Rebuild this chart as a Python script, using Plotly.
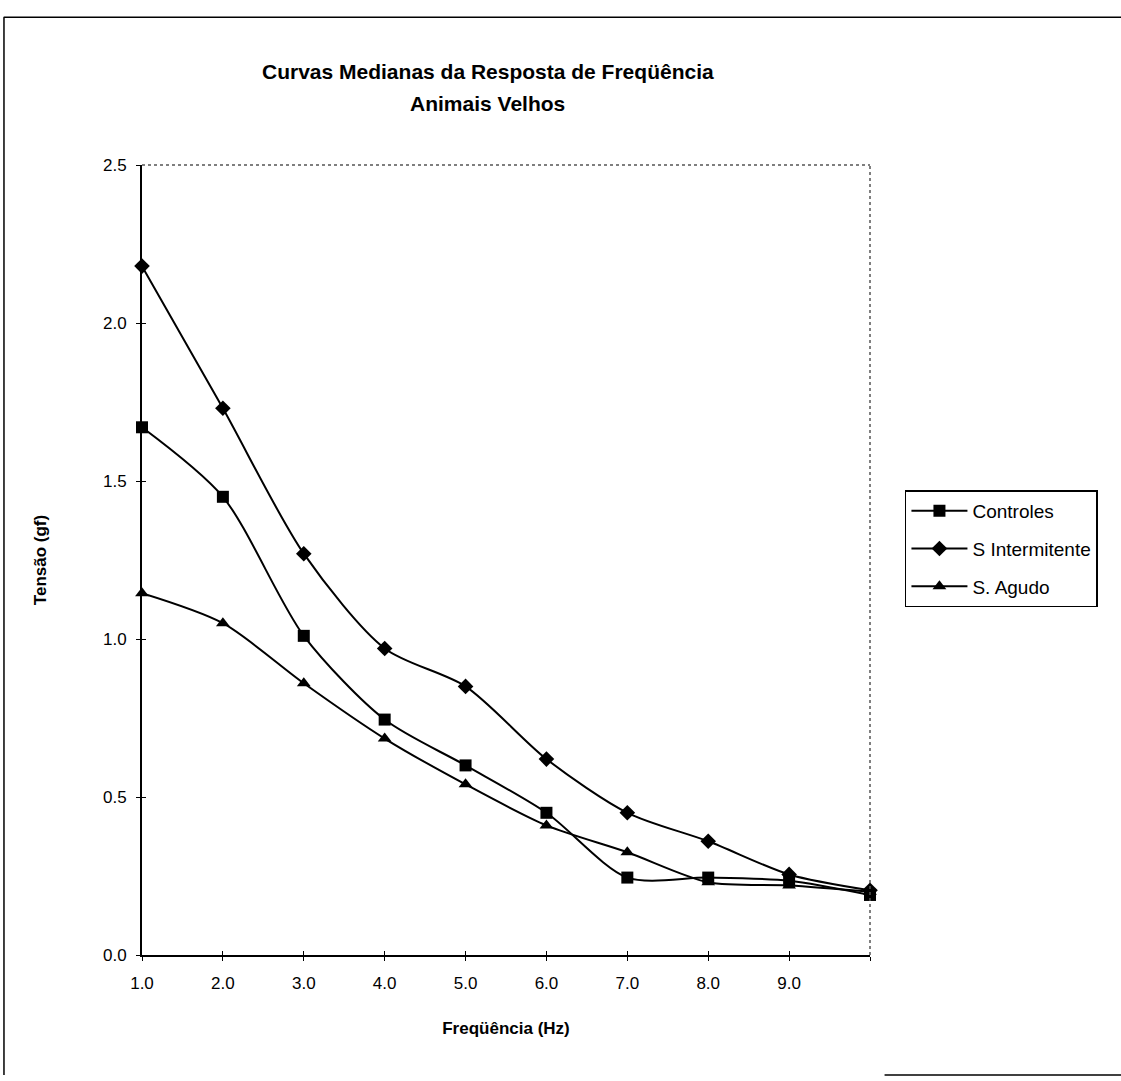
import plotly.graph_objects as go

# Frequency steps (Hz) and median tension (gf) for each group
frequencias = [1, 2, 3, 4, 5, 6, 7, 8, 9, 10]
rotulos_x = ["1.0", "2.0", "3.0", "4.0", "5.0", "6.0", "7.0", "8.0", "9.0", ""]

controles = [1.67, 1.45, 1.01, 0.745, 0.60, 0.45, 0.245, 0.245, 0.235, 0.19]
s_intermitente = [2.18, 1.73, 1.27, 0.97, 0.85, 0.62, 0.45, 0.36, 0.255, 0.205]
s_agudo = [1.145, 1.05, 0.86, 0.685, 0.54, 0.41, 0.325, 0.23, 0.22, 0.20]

valores_y = [0.0, 0.5, 1.0, 1.5, 2.0, 2.5]
rotulos_y = ["0.0", "0.5", "1.0", "1.5", "2.0", "2.5"]

FONTE = "Liberation Sans, Arial, sans-serif"

series = [
    ("Controles", controles, "square"),
    ("S Intermitente", s_intermitente, "diamond"),
    ("S. Agudo", s_agudo, "triangle-up"),
]

fig = go.Figure()
for i, (nome, valores, simbolo) in enumerate(series):
    fig.add_trace(go.Scatter(
        x=frequencias, y=valores, name=nome, mode="lines+markers",
        line=dict(color="black", width=2, shape="spline", smoothing=0.8),
        marker=dict(symbol=simbolo, size=12, color="black"),
        legendgroup=f"g{i}", cliponaxis=False,
    ))

# invisible companion trace so the inner half of the tick marks is drawn
fig.add_trace(go.Scatter(x=[frequencias[0]], y=[valores_y[0]], xaxis="x2", yaxis="y2",
                         mode="markers", marker=dict(opacity=0), showlegend=False,
                         hoverinfo="skip"))

eixo = dict(showgrid=False, zeroline=False, showline=True, linecolor="black",
            linewidth=2, ticks="outside", ticklen=4, tickcolor="black", tickwidth=1,
            tickfont=dict(family=FONTE, size=17, color="black"))

fig.update_layout(
    width=1121, height=1081,
    paper_bgcolor="white", plot_bgcolor="white",
    margin=dict(l=142, r=251, t=165, b=126),
    font=dict(family=FONTE, color="black"),
    xaxis=dict(**eixo, range=[1, 10], tickvals=frequencias, ticktext=rotulos_x,
               ticklabelstandoff=8,
               title=dict(text="<b>Freqüência (Hz)</b>", font=dict(size=17), standoff=30)),
    yaxis=dict(**eixo, range=[0, 2.5], tickvals=valores_y, ticktext=rotulos_y,
               ticklabelstandoff=6,
               title=dict(text="<b>Tensão (gf)</b>", font=dict(size=17), standoff=52)),
    xaxis2=dict(overlaying="x", range=[1, 10], tickvals=frequencias, showticklabels=False,
                ticks="inside", ticklen=4, tickcolor="black", showgrid=False,
                zeroline=False, showline=False, anchor="y2"),
    yaxis2=dict(overlaying="y", range=[0, 2.5], tickvals=valores_y, showticklabels=False,
                ticks="inside", ticklen=4, tickcolor="black", showgrid=False,
                zeroline=False, showline=False, anchor="x2"),
    showlegend=True,
    legend=dict(x=1.048, y=0.588, xanchor="left", yanchor="top",
                bordercolor="black", borderwidth=1.5, bgcolor="white",
                font=dict(family=FONTE, size=19, color="black"),
                traceorder="grouped", tracegroupgap=10, itemwidth=56),
    annotations=[
        dict(text="<b>Curvas Medianas da Resposta de Freqüência</b>", xref="paper",
             yref="paper", x=0.475, y=1.118, xanchor="center", yanchor="middle",
             showarrow=False, font=dict(size=21, family=FONTE)),
        dict(text="<b>Animais Velhos</b>", xref="paper", yref="paper",
             x=0.475, y=1.078, xanchor="center", yanchor="middle",
             showarrow=False, font=dict(size=21, family=FONTE)),
    ],
    shapes=[
        # dotted top and right edges of the plot area
        dict(type="line", xref="paper", yref="paper", x0=0, x1=1, y0=1, y1=1,
             line=dict(color="#555", width=1.5, dash="dot")),
        dict(type="line", xref="paper", yref="paper", x0=1, x1=1, y0=0, y1=1,
             line=dict(color="#555", width=1.5, dash="dot")),
        # page frame
        dict(type="line", xref="paper", yref="paper", x0=-0.19, x1=1.345, y0=1.187, y1=1.187,
             line=dict(color="black", width=1.5)),
        dict(type="line", xref="paper", yref="paper", x0=-0.1896, x1=-0.1896, y0=1.187, y1=-0.152,
             line=dict(color="black", width=1.5)),
        dict(type="line", xref="paper", yref="paper", x0=1.02, x1=1.345, y0=-0.152, y1=-0.152,
             line=dict(color="black", width=1.5)),
    ],
)

fig.write_html("out.html")
